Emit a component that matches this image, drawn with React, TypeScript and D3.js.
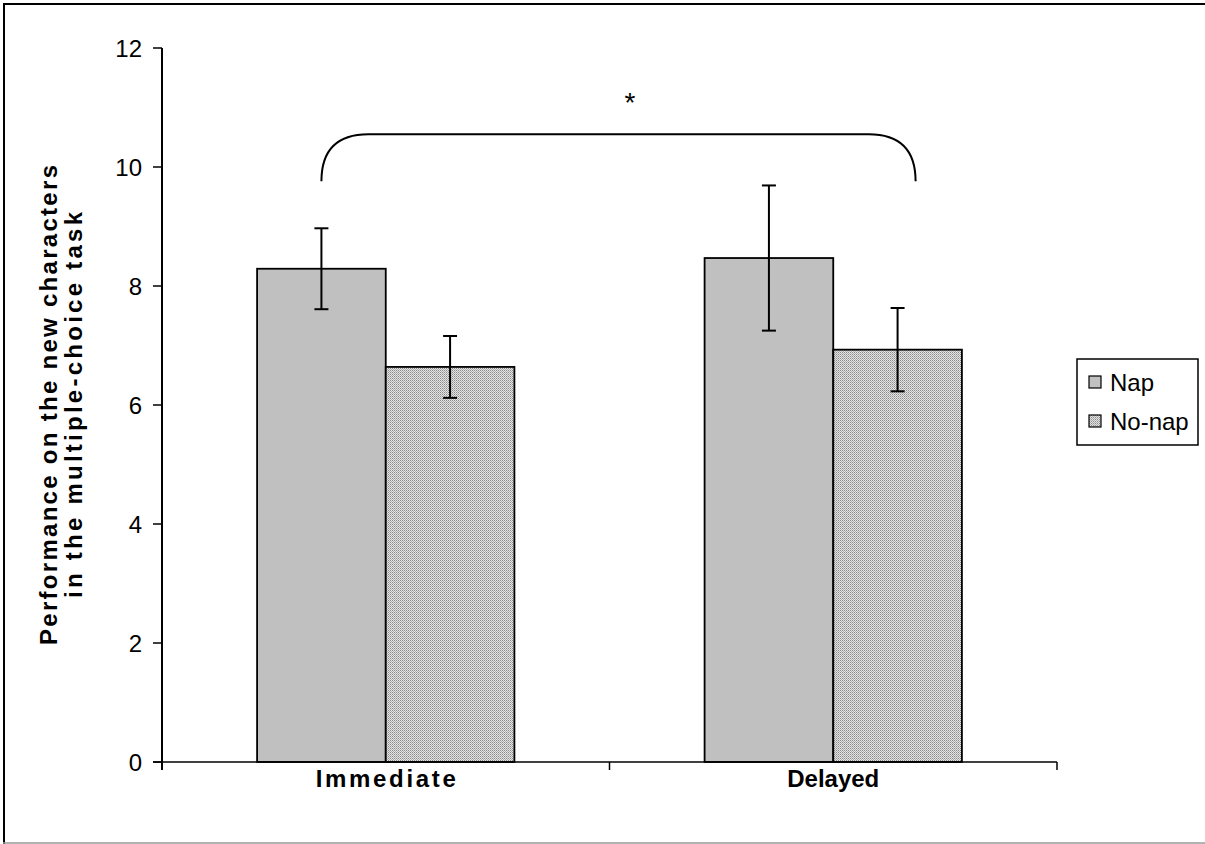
import React from "react";
import * as d3 from "d3";

// Study conditions and group means with error margins
const categories = ["Immediate", "Delayed"];
const groups = ["Nap", "No-nap"];
const napMeans = [8.29, 8.47];
const napErrors = [0.68, 1.22];
const noNapMeans = [6.64, 6.93];
const noNapErrors = [0.52, 0.7];
const yTicks = [0, 2, 4, 6, 8, 10, 12];
const yLabelLines = [
  "Performance on the new characters",
  "in the multiple-choice task",
];
// Significance bracket spans the two conditions
const bracketLow = 9.78;
const bracketHigh = 10.55;
const significanceMark = "*";

const W = 1205;
const H = 844;
const margin = { left: 162, right: 1057, top: 48, bottom: 762 };
const FONT = "'Liberation Sans', Arial, sans-serif";
const categoryLabelWidth: Record<string, number> = { Immediate: 140, Delayed: 92 };
const titleLineWidth = [480, 386];

export default function App() {
  const x = d3
    .scaleBand<string>()
    .domain(categories)
    .range([margin.left, margin.right])
    .paddingInner(0.425)
    .paddingOuter(0.2125);
  const y = d3.scaleLinear().domain([0, 12]).range([margin.bottom, margin.top]);
  const bw = x.bandwidth() / 2;

  const series = [
    { name: groups[0], means: napMeans, errs: napErrors, fill: "#c0c0c0" },
    { name: groups[1], means: noNapMeans, errs: noNapErrors, fill: "url(#dots)" },
  ];

  // Bracket geometry
  const bx1 = (x(categories[0]) as number) + bw / 2;
  const bx2 = (x(categories[1]) as number) + bw * 1.64;
  const by1 = y(bracketLow);
  const by2 = y(bracketHigh);
  const r = 47;
  const bracketPath = `M${bx1},${by1} L${bx1},${by2 + r} Q${bx1},${by2} ${bx1 + r},${by2} L${bx2 - r},${by2} Q${bx2},${by2} ${bx2},${by2 + r} L${bx2},${by1}`;

  return (
    <svg
      width={W}
      height={H}
      style={{ position: "absolute", left: 0, top: 0, background: "#fff" }}
      fontFamily={FONT}
    >
      <defs>
        <pattern id="dots" width="2" height="2" patternUnits="userSpaceOnUse">
          <rect width="2" height="2" fill="#e4e4e4" />
          <rect x="0" y="0" width="1" height="1" fill="#8a8a8a" />
          <rect x="1" y="1" width="1" height="1" fill="#b0b0b0" />
        </pattern>
      </defs>

      {/* outer frame */}
      <line x1={3} y1={4} x2={1205} y2={4} stroke="#000" strokeWidth={2} />
      <line x1={4} y1={3} x2={4} y2={844} stroke="#000" strokeWidth={2} />
      <line x1={3} y1={843} x2={1205} y2={843} stroke="#999" strokeWidth={1.5} />

      {/* bars */}
      {series.map((s, si) =>
        categories.map((c, ci) => {
          const bx = (x(c) as number) + si * bw;
          return (
            <rect
              key={`${si}-${ci}`}
              x={bx}
              y={y(s.means[ci])}
              width={bw}
              height={y(0) - y(s.means[ci])}
              fill={s.fill}
              stroke="#000"
              strokeWidth={1.8}
            />
          );
        })
      )}

      {/* error bars */}
      {series.map((s, si) =>
        categories.map((c, ci) => {
          const cx = (x(c) as number) + si * bw + bw / 2;
          const top = y(s.means[ci] + s.errs[ci]);
          const bot = y(s.means[ci] - s.errs[ci]);
          return (
            <g key={`e${si}-${ci}`} stroke="#000" strokeWidth={2}>
              <line x1={cx} x2={cx} y1={top} y2={bot} />
              <line x1={cx - 7} x2={cx + 7} y1={top} y2={top} />
              <line x1={cx - 7} x2={cx + 7} y1={bot} y2={bot} />
            </g>
          );
        })
      )}

      {/* y axis */}
      <line x1={margin.left} x2={margin.left} y1={margin.top} y2={margin.bottom + 8} stroke="#000" strokeWidth={2} />
      {yTicks.map((t) => (
        <g key={t}>
          <line x1={margin.left - 9} x2={margin.left} y1={y(t)} y2={y(t)} stroke="#000" strokeWidth={1.5} />
          <text x={142} y={y(t)} dy="0.36em" textAnchor="end" fontSize={24}>
            {t}
          </text>
        </g>
      ))}

      {/* x axis */}
      <line x1={margin.left - 9} x2={margin.right} y1={margin.bottom} y2={margin.bottom} stroke="#000" strokeWidth={1.5} />
      {[margin.left, (margin.left + margin.right) / 2, margin.right].map((tx, i) => (
        <line key={i} x1={tx} x2={tx} y1={margin.bottom} y2={margin.bottom + 8} stroke="#000" strokeWidth={1.5} />
      ))}
      {categories.map((c) => (
        <text
          key={c}
          x={(x(c) as number) + x.bandwidth() / 2}
          y={778}
          dy="0.36em"
          textAnchor="middle"
          fontSize={24}
          fontWeight="bold"
          textLength={categoryLabelWidth[c]}
          lengthAdjust="spacing"
        >
          {c}
        </text>
      ))}

      {/* y axis title */}
      {yLabelLines.map((line, i) => (
        <text
          key={i}
          transform={`translate(${48 + i * 25},${(margin.top + margin.bottom) / 2}) rotate(-90)`}
          dy="0.36em"
          textAnchor="middle"
          fontSize={24}
          fontWeight="bold"
          textLength={titleLineWidth[i]}
          lengthAdjust="spacing"
        >
          {line}
        </text>
      ))}

      {/* significance bracket */}
      <path d={bracketPath} fill="none" stroke="#000" strokeWidth={2} />
      <text x={630} y={112} textAnchor="middle" fontSize={28}>
        {significanceMark}
      </text>

      {/* legend */}
      <rect x={1077} y={359} width={121} height={86} fill="#fff" stroke="#000" strokeWidth={1.5} />
      {series.map((s, i) => (
        <g key={s.name} transform={`translate(1089,${382 + i * 39})`}>
          <rect x={0} y={-6} width={12} height={12} fill={s.fill} stroke="#000" strokeWidth={1.2} />
          <text x={21} y={0} dy="0.36em" fontSize={24}>
            {s.name}
          </text>
        </g>
      ))}
    </svg>
  );
}
